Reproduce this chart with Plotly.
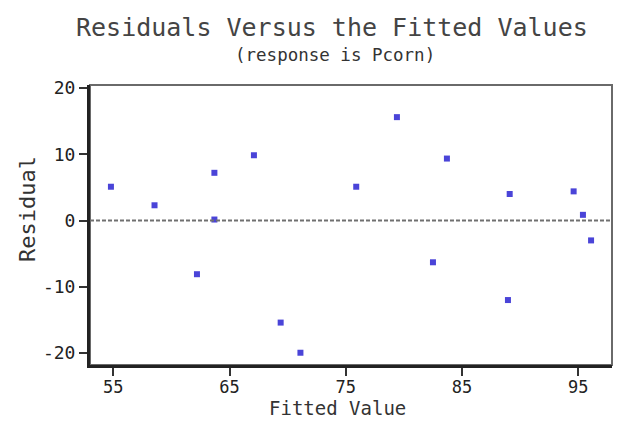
import plotly.graph_objects as go

fitted = [54.8, 58.55, 63.7, 63.7, 67.1, 62.2, 69.4, 71.1, 75.9, 79.4, 83.7, 89.1, 94.6, 95.4, 82.5, 88.95, 96.1]
residual = [5.1, 2.3, 7.2, 0.15, 9.85, -8.1, -15.4, -19.95, 5.1, 15.6, 9.35, 4.0, 4.4, 0.86, -6.3, -12.0, -3.0]
x_ticks = [55, 65, 75, 85, 95]
y_ticks = [-20, -10, 0, 10, 20]

FONT = "DejaVu Sans Mono"
W, H = 628, 421
ML, MR, MT, MB = 90, 16, 85, 56
plot_w = W - ML - MR
plot_h = H - MT - MB

def px_x(px):
    return (px - ML) / plot_w

def px_y(py):
    return 1 + (MT - py) / plot_h

fig = go.Figure()
fig.add_trace(go.Scatter(
    x=fitted, y=residual, mode="markers",
    marker=dict(symbol="square", size=6, color="#4a44d8"),
    showlegend=False, cliponaxis=False,
))
fig.add_hline(y=0, line=dict(color="#707070", width=2, dash="4px,2px"))

# frame (top/right lighter)
fig.add_shape(type="rect", xref="paper", yref="paper", x0=0, x1=1, y0=0, y1=1,
              line=dict(color="#6a6a6a", width=2), layer="below")

fig.update_layout(
    width=W, height=H,
    margin=dict(l=ML, r=MR, t=MT, b=MB),
    paper_bgcolor="white", plot_bgcolor="white",
    font=dict(family=FONT, color="#333333"),
    annotations=[
        dict(text="Residuals Versus the Fitted Values", x=px_x(332), xref="paper",
             y=px_y(27), yref="paper", yanchor="middle", showarrow=False,
             font=dict(size=25, color="#444444")),
        dict(text="(response is Pcorn)", x=px_x(335), xref="paper", y=px_y(55),
             yref="paper", yanchor="middle", showarrow=False,
             font=dict(size=17.5, color="#333333")),
        dict(text="Fitted Value", x=px_x(337), xref="paper", y=px_y(420.5),
             yref="paper", yanchor="bottom", showarrow=False,
             font=dict(size=19, color="#333333")),
        dict(text="Residual", x=px_x(27), xref="paper", y=px_y(209),
             yref="paper", xanchor="center", yanchor="middle", textangle=-90,
             showarrow=False, font=dict(size=22, color="#333333")),
    ],
)

fig.update_xaxes(
    range=[53.0, 97.9], tickvals=x_ticks, ticktext=[str(v) for v in x_ticks],
    showgrid=False, zeroline=False, showline=True, linecolor="#222222", linewidth=3,
    ticks="outside", ticklen=8, tickwidth=2, tickcolor="#333333",
    tickfont=dict(size=17, color="#222222"), automargin=False,
    ticklabelstandoff=-3,
)
fig.update_yaxes(
    range=[-21.8, 20.45], tickvals=y_ticks, ticktext=[str(v) for v in y_ticks],
    showgrid=False, zeroline=False, showline=True, linecolor="#222222", linewidth=3,
    ticks="outside", ticklen=8, tickwidth=2, tickcolor="#333333",
    tickfont=dict(size=18, color="#222222"), automargin=False,
)

fig.write_html("out.html")
